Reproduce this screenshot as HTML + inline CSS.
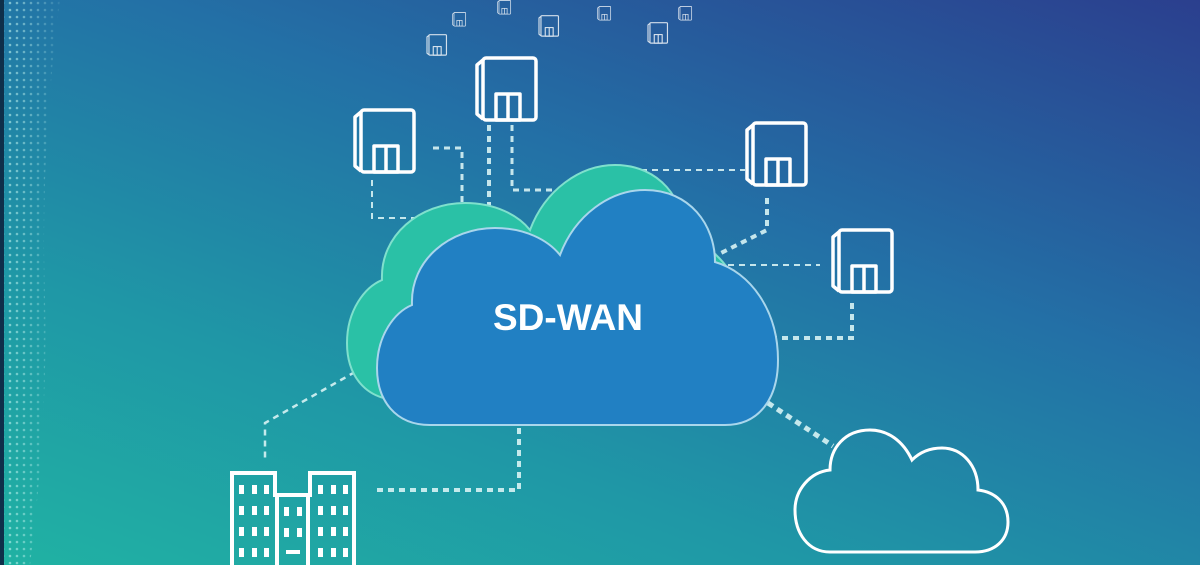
<!DOCTYPE html>
<html><head><meta charset="utf-8">
<style>
html,body{margin:0;padding:0;width:1200px;height:565px;overflow:hidden}
body{background:linear-gradient(20deg,#20b2a3 0%,#1f97a6 30%,#2370a6 62%,#2b3f8e 100%)}
svg{position:absolute;left:0;top:0}
</style></head><body>
<svg width="1200" height="565" viewBox="0 0 1200 565" xmlns="http://www.w3.org/2000/svg">
<defs>
<pattern id="dots" width="7" height="7" patternUnits="userSpaceOnUse"><circle cx="3" cy="3" r="1.3" fill="#bff3ee"/></pattern>
<linearGradient id="fade" x1="0" y1="0" x2="1" y2="0"><stop offset="0" stop-color="#fff" stop-opacity="0.7"/><stop offset="1" stop-color="#fff" stop-opacity="0"/></linearGradient>
<mask id="m"><rect x="0" y="0" width="70" height="565" fill="url(#fade)"/></mask>
<g id="bld" fill="none" stroke="#fff" stroke-width="3.5" stroke-linejoin="round">
<rect x="9" y="2" width="53" height="62" rx="3"/>
<path d="M9 4 L3 9 L3 58 L9 63"/>
<rect x="22" y="38" width="24" height="26"/>
<line x1="34" y1="38" x2="34" y2="64"/>
</g>
<path id="cl" d="M430 425 C395 425 377 400 377 368 C377 335 395 312 412 305 C410 260 450 228 495 228 C525 228 548 240 560 255 C575 215 610 190 645 190 C690 190 715 225 715 262 C750 272 778 310 778 360 C778 400 758 425 725 425 Z"/>
</defs>
<rect x="0" y="0" width="4" height="565" fill="#0e2f4a"/>
<path d="M4 0 H60 Q40 150 45 300 Q48 420 30 565 H4 Z" fill="url(#dots)" mask="url(#m)"/>

<g fill="none" stroke="#d7f3f4" stroke-width="3" stroke-dasharray="6 5" opacity="0.9">
<path d="M433 148 H462 V240"/>
<path d="M489 125 V240" stroke-width="4"/>
<path d="M512 125 V190 H560"/>
<path d="M372 180 V218 H430" stroke-width="2"/>
<path d="M630 170 H745" stroke-width="2"/>
<path d="M767 198 V230 L715 256" stroke-width="4"/>
<path d="M728 265 H820" stroke-width="2"/>
<path d="M852 303 V338 H773" stroke-width="4"/>
<path d="M768 403 L833 446" stroke-width="5"/>
<path d="M355 372 L265 423 V460" stroke-width="2.5"/>
<path d="M519 428 V490 H374" stroke-width="4"/>
</g>

<use href="#cl" transform="translate(-30,-25)" fill="#2ac1a6" stroke="#7fe0cd" stroke-width="2"/>
<use href="#cl" fill="#2180c3" stroke="#a9d6ec" stroke-width="2"/>
<text x="568" y="330" text-anchor="middle" font-family="Liberation Sans, sans-serif" font-weight="bold" font-size="37" fill="#fff">SD-WAN</text>

<use href="#bld" transform="translate(352,108)"/>
<use href="#bld" transform="translate(474,56)"/>
<use href="#bld" transform="translate(744,121)"/>
<use href="#bld" transform="translate(830,228)"/>
<g opacity="0.8">
<use href="#bld" transform="translate(426,34) scale(0.33)"/>
<use href="#bld" transform="translate(538,15) scale(0.33)"/>
<use href="#bld" transform="translate(647,22) scale(0.33)"/>
<use href="#bld" transform="translate(452,12) scale(0.22)"/>
<use href="#bld" transform="translate(597,6) scale(0.22)"/>
<use href="#bld" transform="translate(678,6) scale(0.22)"/>
<use href="#bld" transform="translate(497,0) scale(0.22)"/>
</g>

<path d="M830 552 H975 C995 552 1008 540 1008 522 C1008 503 995 492 978 490 C978 465 962 448 942 448 C930 448 920 452 912 460 C903 441 888 430 870 430 C845 430 830 448 830 470 C810 472 795 490 795 510 C795 533 808 552 830 552 Z" fill="none" stroke="#fff" stroke-width="3"/>

<g fill="none" stroke="#fff" stroke-width="4">
<path d="M232 568 V473 H275 V495 H310 V473 H354 V568"/>
<path d="M277 568 V497 M308 568 V497"/>
</g>
<g fill="#fff">
<rect x="239" y="485" width="5" height="9"/><rect x="252" y="485" width="5" height="9"/><rect x="264" y="485" width="5" height="9"/>
<rect x="239" y="506" width="5" height="9"/><rect x="252" y="506" width="5" height="9"/><rect x="264" y="506" width="5" height="9"/>
<rect x="239" y="527" width="5" height="9"/><rect x="252" y="527" width="5" height="9"/><rect x="264" y="527" width="5" height="9"/>
<rect x="239" y="548" width="5" height="9"/><rect x="252" y="548" width="5" height="9"/><rect x="264" y="548" width="5" height="9"/>
<rect x="318" y="485" width="5" height="9"/><rect x="331" y="485" width="5" height="9"/><rect x="343" y="485" width="5" height="9"/>
<rect x="318" y="506" width="5" height="9"/><rect x="331" y="506" width="5" height="9"/><rect x="343" y="506" width="5" height="9"/>
<rect x="318" y="527" width="5" height="9"/><rect x="331" y="527" width="5" height="9"/><rect x="343" y="527" width="5" height="9"/>
<rect x="318" y="548" width="5" height="9"/><rect x="331" y="548" width="5" height="9"/><rect x="343" y="548" width="5" height="9"/>
<rect x="284" y="507" width="5" height="9"/><rect x="297" y="507" width="5" height="9"/>
<rect x="284" y="528" width="5" height="9"/><rect x="297" y="528" width="5" height="9"/>
<rect x="286" y="550" width="14" height="4"/>
</g>
</svg>
</body></html>
